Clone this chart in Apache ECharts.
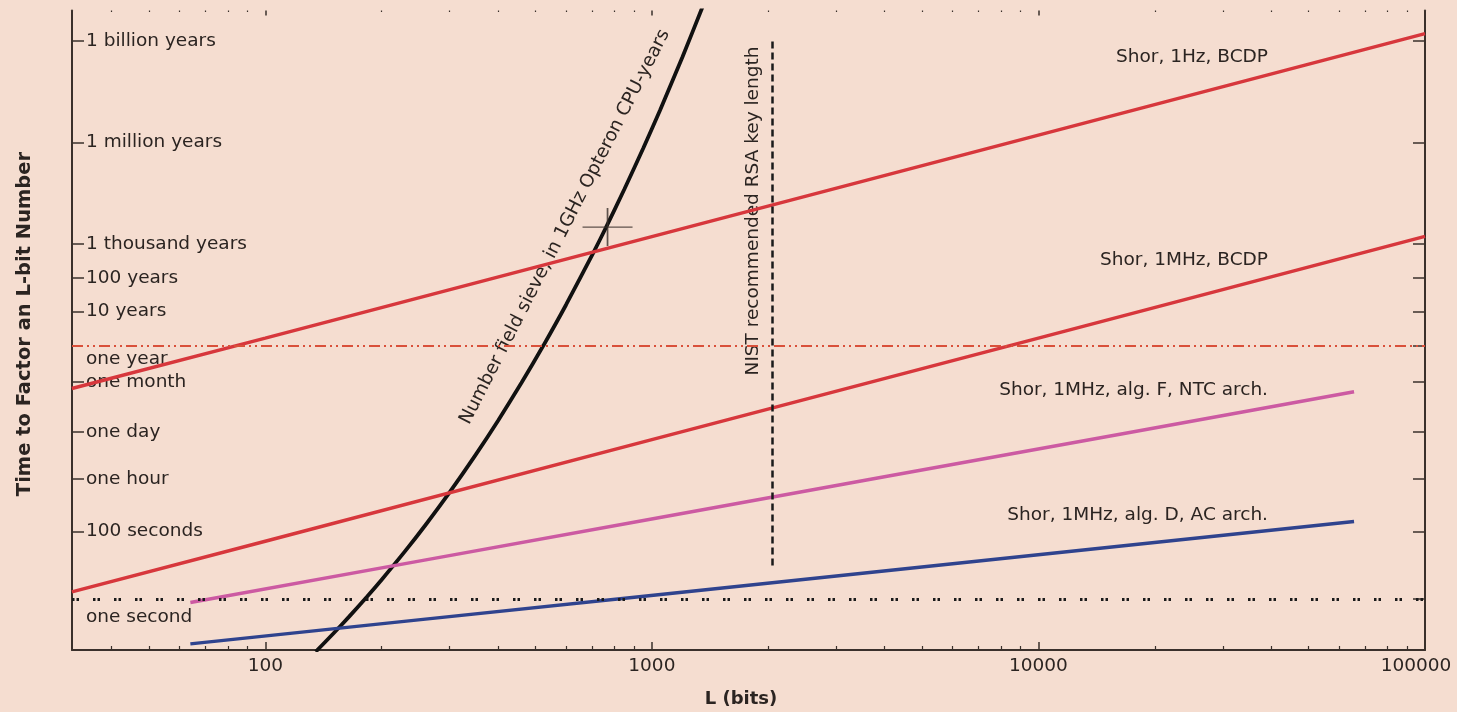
<!DOCTYPE html>
<html><head><meta charset="utf-8">
<script src="https://cdn.jsdelivr.net/npm/echarts@6/dist/echarts.min.js"></script>
<style>html,body{margin:0;padding:0;background:#f5ddd0;} #c{width:1457px;height:712px;}</style>
</head><body><div id="c"></div>
<script>
// ---- data (seconds vs key length in bits) ----
const xMajorTicks = [100, 1000, 10000, 100000];
const xMinorTicks = [40,50,60,70,80,90, 200,300,400,500,600,700,800,900,
  2000,3000,4000,5000,6000,7000,8000,9000, 20000,30000,40000,50000,60000,70000,80000,90000];

const yTickValues = [3.156e16, 3.156e13, 3.156e10, 3.156e9, 3.156e8, 2.63e6, 86400, 3600, 100];
const yTickLabels = ['1 billion years','1 million years','1 thousand years','100 years','10 years','one month','one day','one hour','100 seconds'];
const yRefValues = [3.156e7, 1];
const yRefLabels = ['one year', 'one second'];

const shorL = [31.6, 100, 1000, 10000, 100000];
const shor1HzBCDP = [1.7e6, 5.2e7, 5.2e10, 5.2e13, 5.2e16];
const shor1MHzBCDP = [1.65, 52, 5.2e4, 5.2e7, 5.3e10];

const archL = [64, 256, 1024, 4096, 16384, 65536];
const shorAlgF_NTC = [0.80, 14.1, 248, 4380, 7.7e4, 1.36e6];
const shorAlgD_AC = [0.048, 0.254, 1.34, 7.1, 37.3, 197];

const nfsL =    [135, 150, 165, 183.5, 200, 230, 260, 300, 350, 400, 460, 524, 600, 706, 760, 850, 950, 1050, 1200, 1348, 1380];
const nfsTime = [0.0281, 0.0971, 0.312, 1.21, 3.79, 26.4, 159, 1462, 1.85e4, 1.89e5, 2.49e6, 3.14e7, 5.06e8, 1.76e10, 9.46e10, 1.35e12, 2.13e13, 2.85e14, 1.06e16, 2.94e17, 5.83e17];

const rsa768 = [768, 1.0e11];
const nistKeyLength = 2048;
const nistSpan = [10, 3.156e16];

const seriesNames = ['Shor, 1Hz, BCDP', 'Shor, 1MHz, BCDP', 'Shor, 1MHz, alg. F, NTC arch.', 'Shor, 1MHz, alg. D, AC arch.', 'Number field sieve, in 1GHz Opteron CPU-years'];

// ---- styling ----
const FONT = "'DejaVu Sans', sans-serif";
const FS = 18.5;
const axisColor = '#3a302b';
const textColor = '#2b2421';
const xMin = Math.pow(10, 1.5), xMax = 1e5;
const yMin = Math.pow(10, -1.5), yMax = Math.pow(10, 17.4);

const pair = (xs, ys) => xs.map((x, i) => [x, ys[i]]);
function yLabel(v) {
  let best = 0, bd = Infinity;
  yTickValues.forEach((t, i) => { const d = Math.abs(Math.log10(t) - Math.log10(v)); if (d < bd) { bd = d; best = i; } });
  return yTickLabels[best];
}
function yRefLabel(v) {
  return Math.abs(Math.log10(v) - Math.log10(yRefValues[0])) < 0.5 ? '{a|' + yRefLabels[0] + '}' : '{b|' + yRefLabels[1] + '}';
}
function xLabel(v) {
  const s = String(Math.round(v));
  return v >= 99999 ? '{last|' + s + '}' : s;
}

const baseX = { type: 'log', logBase: 10, min: xMin, max: xMax, gridIndex: 0, splitLine: { show: false }, minorTick: { show: false } };
const baseY = { type: 'log', logBase: 10, min: yMin, max: yMax, gridIndex: 0, splitLine: { show: false }, minorTick: { show: false } };

const chart = echarts.init(document.getElementById('c'), null, { renderer: 'canvas' });
const option = {
  backgroundColor: '#f5ddd0',
  animation: false,
  grid: { left: 72, right: 32, top: 10.5, bottom: 62, containLabel: false, outerBoundsMode: 'none' },
  xAxis: [
    Object.assign({}, baseX, { position: 'bottom',
      axisLine: { show: true, lineStyle: { color: axisColor, width: 2 } },
      axisTick: { show: true, inside: true, length: 8, customValues: xMajorTicks, lineStyle: { color: axisColor, width: 1.5 } },
      axisLabel: { show: true, customValues: xMajorTicks, formatter: xLabel, fontSize: FS, fontFamily: FONT, color: textColor, margin: 7, hideOverlap: false,
        rich: { last: { fontSize: FS, fontFamily: FONT, color: textColor, padding: [0, 18, 0, 0] } } } }),
    Object.assign({}, baseX, { position: 'bottom',
      axisLine: { show: false },
      axisTick: { show: true, inside: true, length: 4, customValues: xMinorTicks, lineStyle: { color: axisColor, width: 1.2 } },
      axisLabel: { show: false } }),
    Object.assign({}, baseX, { position: 'top',
      axisLine: { show: false },
      axisTick: { show: true, inside: true, length: 5, customValues: xMajorTicks.slice(0, 3), lineStyle: { color: axisColor, width: 1.5 } },
      axisLabel: { show: false } }),
    Object.assign({}, baseX, { position: 'top',
      axisLine: { show: false },
      axisTick: { show: true, inside: true, length: 1.5, customValues: xMinorTicks, lineStyle: { color: axisColor, width: 1.2 } },
      axisLabel: { show: false } })
  ],
  yAxis: [
    Object.assign({}, baseY, { position: 'left',
      axisLine: { show: true, lineStyle: { color: axisColor, width: 2 } },
      axisTick: { show: true, inside: true, length: 12, customValues: yTickValues, lineStyle: { color: axisColor, width: 1.5 } },
      axisLabel: { show: true, inside: true, customValues: yTickValues, formatter: yLabel, fontSize: FS, fontFamily: FONT, color: textColor, margin: 14 } }),
    Object.assign({}, baseY, { position: 'right',
      axisLine: { show: true, lineStyle: { color: axisColor, width: 2 } },
      axisTick: { show: true, inside: true, length: 12, customValues: yTickValues.concat(yRefValues), lineStyle: { color: axisColor, width: 1.5 } },
      axisLabel: { show: false } }),
    Object.assign({}, baseY, { position: 'left',
      axisLine: { show: false },
      axisTick: { show: false },
      axisLabel: { show: true, inside: true, customValues: yRefValues, formatter: yRefLabel, fontSize: FS, fontFamily: FONT, color: textColor, margin: 14,
        rich: { a: { fontSize: FS, fontFamily: FONT, color: textColor, padding: [28, 0, 0, 0] }, b: { fontSize: FS, fontFamily: FONT, color: textColor, padding: [36, 0, 0, 0] } } } })
  ],
  series: [
    { type: 'line', name: 'refs', data: [], xAxisIndex: 0, yAxisIndex: 0, z: 1, silent: true,
      markLine: { silent: true, symbol: 'none', label: { show: false }, animation: false,
        data: [
          { yAxis: yRefValues[0], lineStyle: { color: '#d9503a', width: 2, type: [11, 4, 2, 4, 2, 4] } },
          { yAxis: yRefValues[1], lineStyle: { color: '#1a1a1a', width: 3, type: [2.5, 2, 2.5, 14] } },
          [{ coord: [nistKeyLength, nistSpan[0]], lineStyle: { color: '#1a1a1a', width: 2.5, type: [7, 4] } }, { coord: [nistKeyLength, nistSpan[1]] }]
        ] } },
    { type: 'line', name: seriesNames[4], data: pair(nfsL, nfsTime), smooth: 0.2, showSymbol: false, z: 3,
      lineStyle: { color: '#111111', width: 3.8 } },
    { type: 'line', name: seriesNames[0], data: pair(shorL, shor1HzBCDP), showSymbol: false, z: 4,
      lineStyle: { color: '#d7373c', width: 3.5 } },
    { type: 'line', name: seriesNames[1], data: pair(shorL, shor1MHzBCDP), showSymbol: false, z: 4,
      lineStyle: { color: '#d7373c', width: 3.5 } },
    { type: 'line', name: seriesNames[2], data: pair(archL, shorAlgF_NTC), showSymbol: false, z: 4,
      lineStyle: { color: '#cc5aa2', width: 3.5 } },
    { type: 'line', name: seriesNames[3], data: pair(archL, shorAlgD_AC), showSymbol: false, z: 4,
      lineStyle: { color: '#2f438e', width: 3.5 } },
    { type: 'scatter', name: 'RSA-768', data: [rsa768], z: 5, symbol: 'path://M0,50L100,50M50,0L50,100', symbolSize: [50, 38],
      itemStyle: { color: 'none', borderColor: '#3a302b', borderWidth: 1.5 } }
  ],
  graphic: [
    { type: 'text', x: 1268, y: 57, style: { text: seriesNames[0], font: FS + 'px ' + FONT, fill: textColor, align: 'right', verticalAlign: 'middle' } },
    { type: 'text', x: 1268, y: 260, style: { text: seriesNames[1], font: FS + 'px ' + FONT, fill: textColor, align: 'right', verticalAlign: 'middle' } },
    { type: 'text', x: 1268, y: 390, style: { text: seriesNames[2], font: FS + 'px ' + FONT, fill: textColor, align: 'right', verticalAlign: 'middle' } },
    { type: 'text', x: 1268, y: 515, style: { text: seriesNames[3], font: FS + 'px ' + FONT, fill: textColor, align: 'right', verticalAlign: 'middle' } },
    { type: 'text', x: 565, y: 227, rotation: 62.95 * Math.PI / 180, style: { text: seriesNames[4], font: FS + 'px ' + FONT, fill: textColor, align: 'center', verticalAlign: 'middle' } },
    { type: 'text', x: 753, y: 211, rotation: Math.PI / 2, style: { text: 'NIST recommended RSA key length', font: FS + 'px ' + FONT, fill: textColor, align: 'center', verticalAlign: 'middle' } },
    { type: 'text', x: 25, y: 324, rotation: Math.PI / 2, style: { text: 'Time to Factor an L-bit Number', font: 'bold 19.5px ' + FONT, fill: textColor, align: 'center', verticalAlign: 'middle' } },
    { type: 'text', x: 741, y: 699, style: { text: 'L (bits)', font: 'bold 18px ' + FONT, fill: textColor, align: 'center', verticalAlign: 'middle' } }
  ]
};
chart.setOption(option);
</script>
</body></html>
